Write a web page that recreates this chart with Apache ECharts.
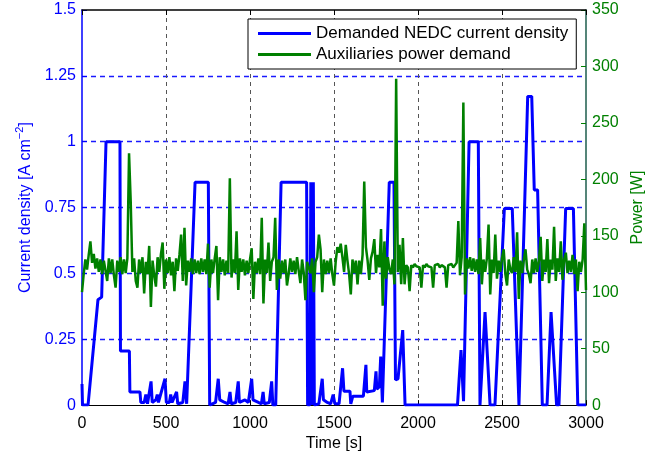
<!DOCTYPE html>
<html>
<head>
<meta charset="utf-8">
<script src="https://cdn.jsdelivr.net/npm/echarts@6/dist/echarts.min.js"></script>
<style>
  html, body { margin: 0; padding: 0; background: #fff; }
  #chart { width: 665px; height: 457px; }
</style>
</head>
<body>
<div id="chart"></div>
<script>
// demanded NEDC current density [A cm^-2], breakpoints
const ncTime = [0, 3, 36, 95, 117, 143, 226, 229, 282, 285, 345, 350, 370, 380, 390, 411, 418, 440, 448, 455, 494, 502, 520, 528, 536, 563, 570, 600, 613, 623,
  673, 752, 760, 795, 811, 820, 850, 870, 881, 888, 915, 930, 937, 970, 990, 1010, 1018, 1050, 1068, 1078, 1085, 1115, 1129, 1136, 1153,
  1185, 1337, 1343, 1356, 1362, 1368, 1372, 1377, 1383, 1410, 1430, 1437, 1460, 1480, 1495, 1505, 1530, 1551, 1559, 1595, 1600, 1612, 1675,
  1690, 1695, 1740, 1750, 1755, 1770, 1778, 1788, 1792, 1829, 1857, 1866, 1881, 1909, 1923, 2235, 2256, 2264, 2271, 2275, 2304, 2359, 2369,
  2378, 2399, 2409, 2429, 2458, 2514, 2561, 2601, 2653, 2677, 2692, 2712, 2740, 2768, 2792, 2802, 2825, 2839, 2879, 2925, 2951, 3000];
const ncValue = [0.08, 0, 0, 0.40, 0.41, 1.0, 1.0, 0.205, 0.205, 0.05, 0.05, 0.01, 0.01, 0.04, 0.005, 0.09, 0.01, 0.02, 0.04, 0.01, 0.10, 0.01, 0.01, 0.04, 0.01, 0.05, 0.005, 0.01, 0.09, 0.005,
  0.846, 0.846, 0, 0.01, 0.10, 0.02, 0.01, 0.005, 0.05, 0.005, 0.01, 0.09, 0.01, 0.02, 0.01, 0.10, 0.02, 0.01, 0.005, 0.05, 0.005, 0.01, 0.09, 0, 0,
  0.846, 0.846, 0, 0, 0.846, 0, 0, 0.846, 0, 0.005, 0.10, 0.02, 0.01, 0.005, 0.04, 0.005, 0.005, 0.14, 0.053, 0.053, 0.005, 0.034, 0.034,
  0.153, 0.05, 0.055, 0.128, 0.06, 0.07, 0.184, 0.01, 0.01, 0.846, 0.846, 0.096, 0.10, 0.285, 0, 0, 0.209, 0.209, 0.015, 0.015, 1.0, 1.0, 0,
  0, 0.353, 0.353, 0, 0, 0.746, 0.746, 0, 1.172, 1.172, 0.817, 0.817, 0, 0, 0.353, 0.353, 0, 0, 0.746, 0.746, 0, 0];

// auxiliaries power demand [W], one reading every 10 s from 0 to 3000 s
const auxStep = 10;
const auxPower = [
  100, 116, 129, 120, 133, 145, 126, 134, 121, 130,
  118, 129, 116, 128, 119, 110, 130, 117, 129, 115,
  104, 128, 118, 131, 116, 129, 117, 130, 223, 180,
  118, 130, 110, 104, 129, 117, 131, 99, 127, 116,
  141, 87, 128, 115, 105, 131, 118, 134, 144, 103,
  129, 117, 131, 115, 127, 101, 130, 119, 133, 151,
  110, 157, 106, 128, 118, 130, 116, 129, 117, 128,
  116, 130, 118, 129, 116, 143, 104, 129, 117, 130,
  141, 93, 131, 118, 129, 115, 128, 117, 201, 113,
  129, 117, 154, 102, 130, 118, 129, 115, 128, 117,
  129, 139, 94, 127, 117, 130, 116, 166, 90, 129,
  117, 144, 110, 127, 131, 166, 102, 129, 112, 128,
  117, 129, 106, 116, 130, 118, 128, 116, 131, 119,
  108, 129, 117, 93, 127, 128, 117, 130, 100, 127,
  131, 151, 138, 100, 129, 116, 128, 117, 130, 116,
  106, 127, 140, 135, 143, 131, 118, 142, 128, 116,
  98, 129, 117, 128, 107, 128, 116, 133, 198, 140,
  128, 111, 130, 136, 147, 117, 133, 122, 156, 88,
  145, 112, 131, 120, 116, 129, 107, 289, 118, 142,
  107, 148, 107, 124, 122, 101, 124, 122, 125, 123,
  124, 122, 104, 124, 122, 125, 123, 124, 122, 104,
  124, 123, 125, 122, 124, 123, 122, 104, 124, 123,
  125, 122, 124, 126, 163, 115, 131, 268, 98, 130,
  121, 131, 119, 130, 118, 129, 116, 148, 107, 129,
  118, 130, 160, 98, 129, 117, 151, 112, 128, 118,
  130, 138, 116, 106, 129, 120, 117, 131, 118, 153,
  94, 128, 117, 129, 138, 120, 116, 108, 129, 117,
  130, 118, 128, 149, 110, 129, 118, 147, 108, 129,
  120, 158, 110, 130, 118, 145, 111, 129, 135, 117,
  128, 118, 133, 116, 129, 101, 127, 118, 129, 161,
  102
];

const timeTicks = [0, 3000, 500];
const densityTicks = [0, 1.5, 0.25];
const powerTicks = [0, 350, 50];

const BLUE = '#0000ff';
const GREEN = '#008000';
const FONT = '"Liberation Sans", Arial, sans-serif';

const chart = echarts.init(document.getElementById('chart'));

const ncData = ncTime.map((t, i) => [t, ncValue[i]]);
const auxData = auxPower.map((p, i) => [i * auxStep, p]);

chart.setOption({
  animation: false,
  textStyle: { fontFamily: FONT },
  grid: { left: 82, right: 79, top: 10, bottom: 48, containLabel: false },
  legend: {
    left: 248, top: 19,
    orient: 'vertical',
    padding: [6, 8, 6, 10],
    itemGap: 4,
    itemWidth: 53, itemHeight: 3,
    icon: 'rect',
    backgroundColor: '#fff',
    borderColor: '#000', borderWidth: 1, borderRadius: 0,
    textStyle: { fontSize: 17, color: '#000', lineHeight: 17, fontFamily: FONT },
    data: ['Demanded NEDC current density', 'Auxiliaries power demand']
  },
  xAxis: [{
    type: 'value',
    min: timeTicks[0], max: timeTicks[1], interval: timeTicks[2],
    name: 'Time [s]', nameLocation: 'middle', nameGap: 30,
    nameTextStyle: { fontSize: 16, color: '#000' },
    axisLine: { onZero: false, lineStyle: { color: '#000', width: 1 } },
    axisTick: { inside: true, length: 5, lineStyle: { color: '#000' } },
    axisLabel: { fontSize: 16, color: '#000', margin: 10, formatter: v => String(v) },
    splitLine: { show: true, showMinLine: false, showMaxLine: false, lineStyle: { color: '#555', type: [4, 4], width: 1 } }
  }, {
    type: 'value', position: 'top',
    min: timeTicks[0], max: timeTicks[1], interval: timeTicks[2],
    axisLine: { onZero: false, lineStyle: { color: '#000', width: 1.5 } },
    axisTick: { inside: true, length: 5, lineStyle: { color: '#000' } },
    axisLabel: { show: false },
    splitLine: { show: false },
    z: 5
  }],
  yAxis: [{
    type: 'value',
    min: densityTicks[0], max: densityTicks[1], interval: densityTicks[2],
    name: 'Current density [A cm{sup|−2}]',
    nameLocation: 'middle', nameGap: 44,
    nameTextStyle: {
      fontSize: 16, color: BLUE,
      rich: { sup: { fontSize: 11, color: BLUE, padding: [0, 0, 12, 0] } }
    },
    axisLine: { show: true, onZero: false, lineStyle: { color: BLUE, width: 1.5 } },
    axisTick: { show: true, inside: true, length: 5, lineStyle: { color: BLUE } },
    axisLabel: { fontSize: 16, color: BLUE, margin: 6 },
    // a bit over 1px so the thin blue dashes keep their colour
    splitLine: { show: true, showMinLine: false, showMaxLine: false, lineStyle: { color: '#1a1aff', type: [5, 4], width: 1.4 } }
  }, {
    type: 'value', position: 'right',
    min: powerTicks[0], max: powerTicks[1], interval: powerTicks[2],
    name: 'Power [W]', nameLocation: 'middle', nameGap: 44,
    nameTextStyle: { fontSize: 16, color: GREEN },
    axisLine: { show: true, onZero: false, lineStyle: { color: '#1d5c4d', width: 1.5 } },
    axisTick: { show: true, inside: true, length: 5, lineStyle: { color: GREEN } },
    axisLabel: { fontSize: 16, color: GREEN, margin: 6 },
    splitLine: { show: false }
  }],
  series: [{
    name: 'Demanded NEDC current density',
    type: 'line', xAxisIndex: 0, yAxisIndex: 0,
    data: ncData, showSymbol: false,
    lineStyle: { color: BLUE, width: 3 },
    itemStyle: { color: BLUE }
  }, {
    name: 'Auxiliaries power demand',
    type: 'line', xAxisIndex: 0, yAxisIndex: 1,
    data: auxData, showSymbol: false,
    lineStyle: { color: GREEN, width: 2.5 },
    itemStyle: { color: GREEN }
  }]
});
</script>
</body>
</html>
